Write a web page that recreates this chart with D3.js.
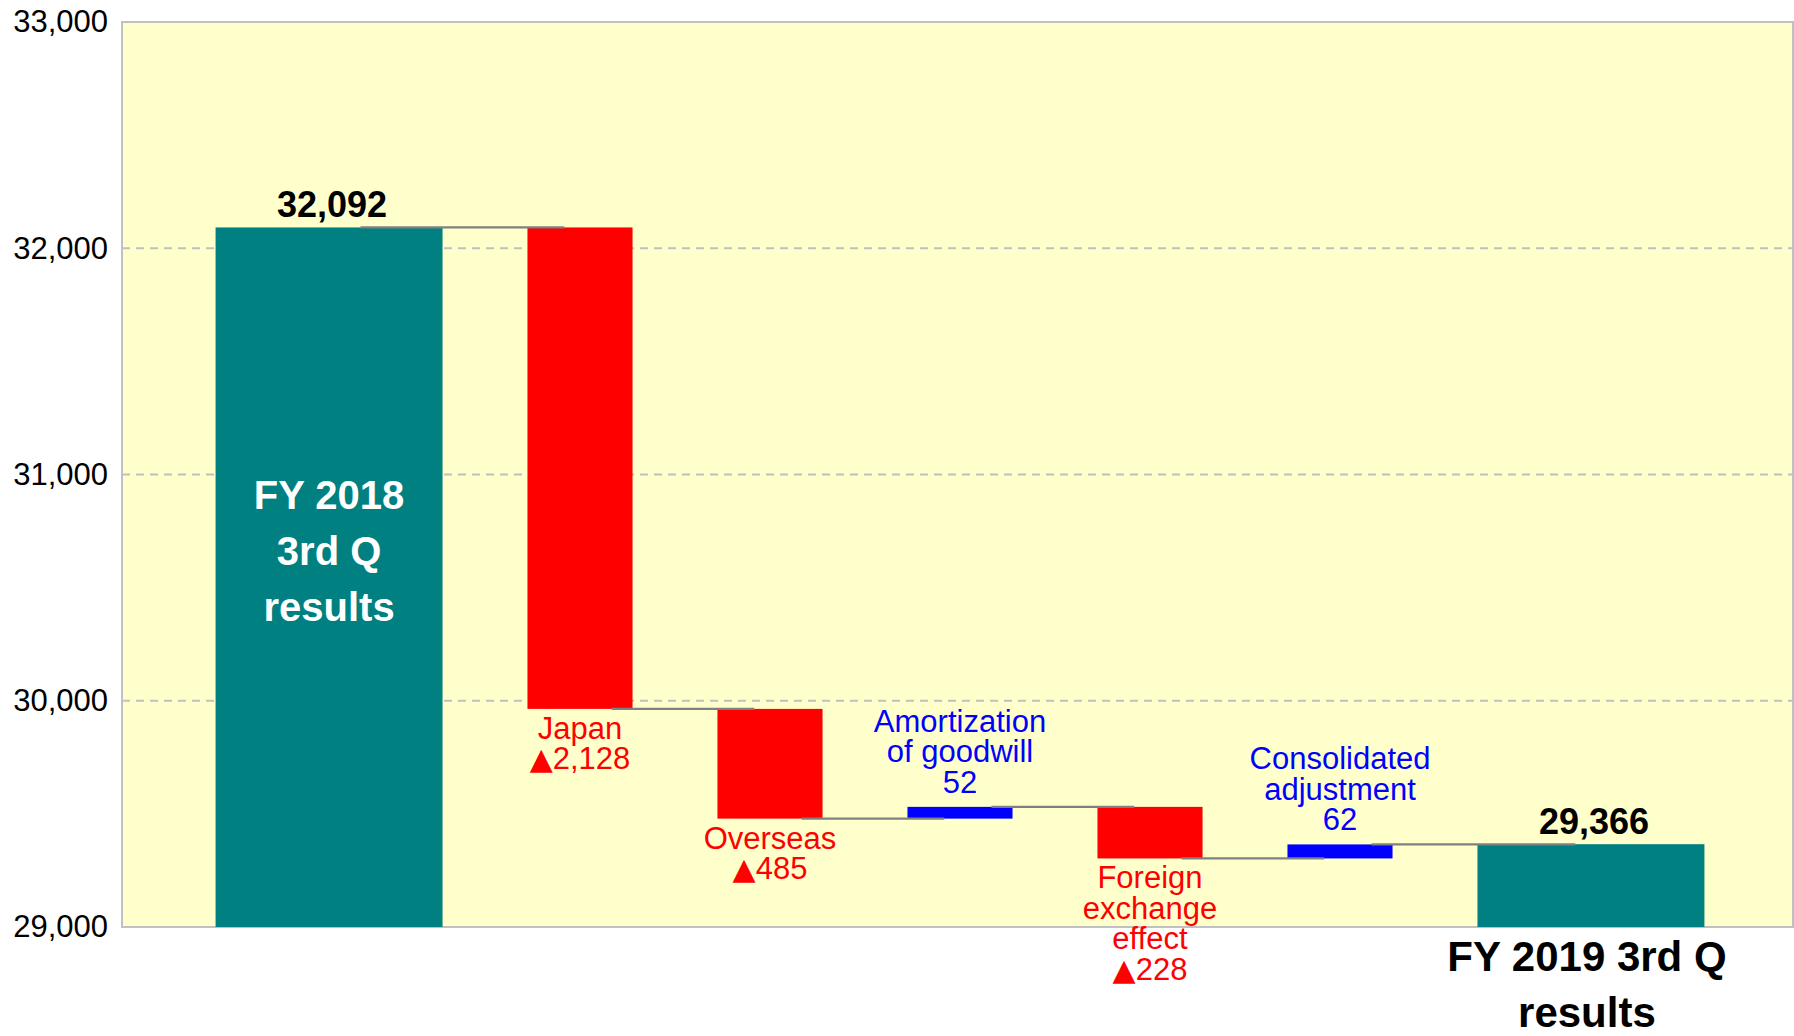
<!DOCTYPE html>
<html>
<head>
<meta charset="utf-8">
<script src="https://cdn.jsdelivr.net/npm/d3@7"></script>
<style>
  body { margin: 0; background: #fff; }
  svg { display: block; font-family: "Liberation Sans", Arial, sans-serif; }
</style>
</head>
<body>
<svg id="chart" width="1794" height="1036"></svg>
<script>
// data
var categories = ["FY 2018 3rd Q results", "Japan", "Overseas", "Amortization of goodwill",
                  "Foreign exchange effect", "Consolidated adjustment", "FY 2019 3rd Q results"];
var values = [32092, -2128, -485, 52, -228, 62, 29366];
var kinds = ["total", "delta", "delta", "delta", "delta", "delta", "total"];
var labelLines = [
  ["FY 2018", "3rd Q", "results"],
  ["Japan", "\u25B22,128"],
  ["Overseas", "\u25B2485"],
  ["Amortization", "of goodwill", "52"],
  ["Foreign", "exchange", "effect", "\u25B2228"],
  ["Consolidated", "adjustment", "62"],
  ["FY 2019 3rd Q", "results"]
];
var yTicks = [29000, 30000, 31000, 32000, 33000];

var svg = d3.select("#chart");
var plot = {left: 122, right: 1793, top: 22, bottom: 927};

var y = d3.scaleLinear().domain([29000, 33000]).range([plot.bottom, plot.top]);
var x = d3.scaleBand().domain(categories).range([295, 1625])
  .paddingInner(0.447).paddingOuter(0.2235);
var bw = x.bandwidth();
var wideW = bw * 2.16;

// build the waterfall steps
var steps = [];
var run = 0;
categories.forEach(function (c, i) {
  var v = values[i], lo, hi;
  if (kinds[i] == "total") { lo = 29000; hi = v; run = v; }
  else { lo = Math.min(run, run + v); hi = Math.max(run, run + v); run = run + v; }
  var w = kinds[i] == "total" ? wideW : bw;
  var x0 = x(c);
  if (i == 0) x0 = x(c) + bw - w;   // first total grows to the left
  steps.push({cat: c, v: v, lo: lo, hi: hi, end: run, x0: x0, w: w, cx: x0 + w / 2, kind: kinds[i], i: i});
});

function barColor(d) {
  if (d.kind == "total") return "#008080";
  return d.v < 0 ? "#ff0000" : "#0000ff";
}

// plot background
svg.append("rect")
  .attr("x", plot.left).attr("y", plot.top)
  .attr("width", plot.right - plot.left).attr("height", plot.bottom - plot.top)
  .attr("fill", "#ffffcc");

// gridlines
svg.selectAll(".grid").data(yTicks.slice(1, -1)).enter().append("line")
  .attr("x1", plot.left).attr("x2", plot.right)
  .attr("y1", function (d) { return y(d); }).attr("y2", function (d) { return y(d); })
  .attr("stroke", "#c0c0c0").attr("stroke-width", 2).attr("stroke-dasharray", "8,6");

// border
svg.append("rect")
  .attr("x", plot.left).attr("y", plot.top)
  .attr("width", plot.right - plot.left).attr("height", plot.bottom - plot.top)
  .attr("fill", "none").attr("stroke", "#c0c0c0").attr("stroke-width", 2);

// y axis labels
var yAxis = d3.axisLeft(y).tickValues(yTicks).tickSize(0).tickPadding(14)
  .tickFormat(d3.format(","));
var ya = svg.append("g").attr("transform", "translate(" + plot.left + ",0)").call(yAxis);
ya.select(".domain").remove();
ya.selectAll("text")
  .attr("font-family", "Liberation Sans, Arial, sans-serif")
  .attr("font-size", 31).attr("fill", "#000");

// bars
svg.selectAll(".bar").data(steps).enter().append("rect")
  .attr("x", function (d) { return d.x0; })
  .attr("y", function (d) { return y(d.hi); })
  .attr("width", function (d) { return d.w; })
  .attr("height", function (d) { return y(d.lo) - y(d.hi); })
  .attr("fill", barColor);

// connectors
var links = d3.pairs(steps);
svg.selectAll(".link").data(links).enter().append("line")
  .attr("x1", function (p) { return p[0].cx + 0.3 * bw; })
  .attr("x2", function (p) { return p[1].cx - 0.15 * bw; })
  .attr("y1", function (p) { return y(p[0].end); })
  .attr("y2", function (p) { return y(p[0].end); })
  .attr("stroke", "#808080").attr("stroke-width", 2.2);

// value labels on totals
steps.filter(function (d) { return d.kind == "total"; }).forEach(function (d) {
  svg.append("text")
    .attr("x", d.cx + 3).attr("y", y(d.hi) - 10)
    .attr("text-anchor", "middle").attr("font-size", 36).attr("font-weight", "bold")
    .attr("fill", "#000").text(d3.format(",")(d.v));
});

// label inside the first total
var first = steps[0];
var midY = y(first.hi) + 0.463 * (y(first.lo) - y(first.hi));
labelLines[0].forEach(function (t, k) {
  svg.append("text")
    .attr("x", first.cx).attr("y", midY + (k - 1) * 56 + 14)
    .attr("text-anchor", "middle").attr("font-size", 40).attr("font-weight", "bold")
    .attr("fill", "#fff").text(t);
});

// label under the last total
var last = steps[steps.length - 1];
labelLines[6].forEach(function (t, k) {
  svg.append("text")
    .attr("x", last.cx - 4).attr("y", plot.bottom + 44 + k * 56)
    .attr("text-anchor", "middle").attr("font-size", 42).attr("font-weight", "bold")
    .attr("fill", "#000").text(t);
});

// labels for the deltas: negatives below, positives above
steps.filter(function (d) { return d.kind == "delta"; }).forEach(function (d) {
  var lines = labelLines[d.i];
  var g = svg.append("g").attr("fill", barColor(d)).attr("font-size", 31)
    .attr("text-anchor", "middle");
  lines.forEach(function (t, k) {
    var ty;
    if (d.v < 0) ty = y(d.lo) + 30 + k * 30.5;
    else ty = y(d.hi) - 14 - (lines.length - 1 - k) * 30.5;
    var txt = g.append("text").attr("x", d.cx).attr("y", ty);
    if (t.charAt(0) == "\u25B2") {
      // the reference uses a big filled triangle
      txt.append("tspan").attr("font-family", "DejaVu Sans").attr("font-size", 30).text("\u25B2");
      txt.append("tspan").text(t.slice(1));
    } else {
      txt.text(t);
    }
  });
});
</script>
</body>
</html>
